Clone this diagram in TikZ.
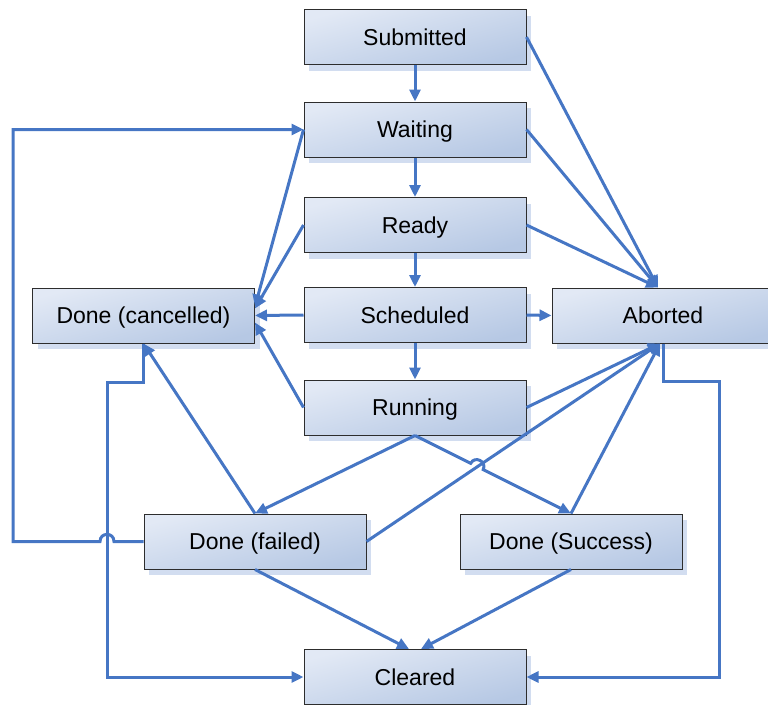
\documentclass[tikz,border=0pt]{standalone}
\usepackage{fontspec}
\setmainfont{Liberation Sans}
\usetikzlibrary{arrows.meta,shadows,calc}
\definecolor{flowblue}{RGB}{70,118,196}
\definecolor{boxlight}{RGB}{226,233,245}
\definecolor{boxdark}{RGB}{182,200,228}
\definecolor{shadowblue}{RGB}{210,221,240}
\definecolor{edgegray}{RGB}{45,45,45}

\begin{document}
\begin{tikzpicture}[x=1pt,y=-1pt,
  state/.style={draw=edgegray, line width=1pt,
    top color=boxlight, bottom color=boxdark, shading angle=15,
    minimum width=222pt, minimum height=55pt, inner sep=0pt,
    text depth=0pt, font=\fontsize{23}{27}\selectfont,
    drop shadow={shadow xshift=5pt, shadow yshift=-6pt, fill=shadowblue, opacity=1}},
  flow/.style={draw=flowblue, line width=3pt, -{Triangle[length=12pt,width=11pt]}}]

\useasboundingbox (0,0) rectangle (768,704);
\clip (0,0) rectangle (768,704);

% states
\node[state] (submitted) at (415,37)    {Submitted};
\node[state] (waiting)   at (415,129.5) {Waiting};
\node[state] (ready)     at (415,225)   {Ready};
\node[state] (scheduled) at (415,315)   {Scheduled};
\node[state] (running)   at (415,407.5) {Running};
\node[state] (cancelled) at (143.5,315.5) {Done (cancelled)};
\node[state] (aborted)   at (663,315.5) {Aborted};
\node[state] (failed)    at (255,541.5) {Done (failed)};
\node[state] (success)   at (571,541.5) {Done (Success)};
\node[state] (cleared)   at (415,677)   {Cleared};

% meeting points of the converging arrows
\coordinate (abN) at ($(aborted.north)+(-5,0)$);
\coordinate (abS) at ($(aborted.south)+(-3,0)$);

% main chain
\draw[flow] (submitted.south) -- (waiting.north);
\draw[flow] (waiting.south) -- (ready.north);
\draw[flow] (ready.south) -- (scheduled.north);
\draw[flow] (scheduled.south) -- (running.north);

% into Aborted
\draw[flow] (submitted.east) -- (abN);
\draw[flow] (waiting.east) -- (abN);
\draw[flow] (ready.east) -- (abN);
\draw[flow] (scheduled.east) -- (aborted.west);
\draw[flow] (running.east) -- (abS);
\draw[flow] (failed.east) -- (abS);
\draw[flow] (success.north) -- (abS);

% into Done (cancelled)
\draw[flow] (waiting.west) -- ($(cancelled.east)+(0,-9)$);
\draw[flow] (ready.west) -- ($(cancelled.east)+(0,-7)$);
\draw[flow] (scheduled.west) -- (cancelled.east);
\draw[flow] (running.west) -- ($(cancelled.east)+(0,7)$);
\draw[flow] (failed.north) -- (cancelled.south);

% out of Running
\draw[flow] (running.south) -- (failed.north);
\coordinate (h1) at ($(running.south)!0.357!(success.north)$);
\coordinate (h2) at ($(running.south)!0.437!(success.north)$);
\draw[flow] (running.south) -- (h1)
  .. controls ($(h1)!9pt!90:(h2)$) and ($(h2)!9pt!-90:(h1)$) .. (h2)
  -- (success.north);

% retry loop back to Waiting
\draw[flow] (failed.west) -- (114,541.5)
  .. controls (114,532) and (100,532) .. (100,541.5)
  -- (13,541.5) -- (13,129.5) -- (waiting.west);

% into Cleared
\draw[flow] (cancelled.south) -- (143.5,382) -- (107,382) -- (107,677) -- (cleared.west);
\draw[flow] (aborted.south) -- (663,381) -- (719,381) -- (719,677) -- (cleared.east);
\draw[flow] (failed.south) -- ($(cleared.north)+(-6,0)$);
\draw[flow] (success.south) -- ($(cleared.north)+(6,0)$);

\end{tikzpicture}
\end{document}
